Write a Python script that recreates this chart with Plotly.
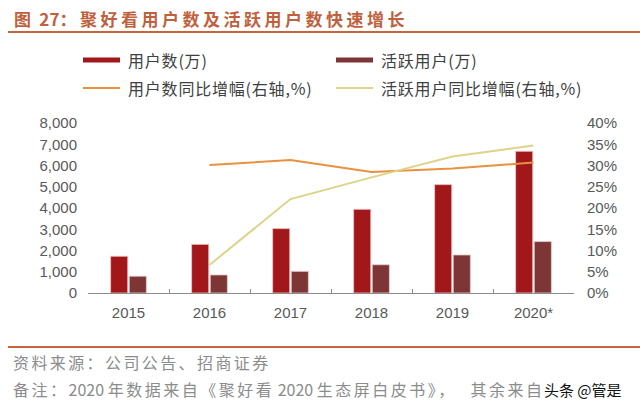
import plotly.graph_objects as go

years = ["2015", "2016", "2017", "2018", "2019", "2020*"]
users = [1730, 2290, 3030, 3940, 5100, 6670]
active_users = [790, 850, 1020, 1330, 1790, 2420]
user_growth = [None, 0.301, 0.313, 0.285, 0.293, 0.307]
active_growth = [None, 0.066, 0.221, 0.272, 0.321, 0.347]

names = ["用户数(万)", "活跃用户(万)", "用户数同比增幅(右轴,%)", "活跃用户同比增幅(右轴,%)"]
c_user, c_active, c_ug, c_ag = "#A2171A", "#7E3535", "#E8913F", "#DDD48A"

W, H = 640, 409
L, R, T, B = 88, 574, 123, 293
def px(x): return (x - L) / (R - L)
def py(y): return (B - y) / (B - T)

def ls(t, s):
    return f'<span style="letter-spacing:{s}px">{t}</span>'

fig = go.Figure()
fig.add_bar(x=years, y=users, name=names[0], marker=dict(color=c_user, line=dict(color="#F2C9C9", width=0.8)))
fig.add_bar(x=years, y=active_users, name=names[1], marker=dict(color=c_active, line=dict(color="#EBCFCF", width=0.8)))
fig.add_scatter(x=years, y=user_growth, name=names[2], yaxis="y2", mode="lines", line=dict(color=c_ug, width=2))
fig.add_scatter(x=years, y=active_growth, name=names[3], yaxis="y2", mode="lines", line=dict(color=c_ag, width=2))

tickfont = dict(family="Liberation Sans, Arial", size=15, color="#595959")
cjk = "Noto Sans CJK SC"

fig.update_layout(
    width=W, height=H,
    margin=dict(l=L, r=W - R, t=T, b=H - B),
    paper_bgcolor="white", plot_bgcolor="white",
    showlegend=False,
    barmode="group", bargap=0.54, bargroupgap=0.08,
    xaxis=dict(showline=True, linecolor="#8C8C8C", linewidth=1, ticks="inside", tickson="boundaries",
               ticklen=4, tickcolor="#8C8C8C", tickfont=tickfont, showgrid=False, ticklabelstandoff=6),
    yaxis=dict(range=[0, 8000], dtick=1000, tickformat=",", showgrid=False, zeroline=False,
               tickfont=tickfont, ticklabelstandoff=10),
    yaxis2=dict(range=[0, 0.4], dtick=0.05, tickformat=".0%", overlaying="y", side="right",
                showgrid=False, zeroline=False, tickfont=tickfont, ticklabelstandoff=12),
)

shapes = []
anns = []
# title
title = ls("图", 4.5) + " 27" + ls("：聚好看用户数及活跃用户数快速增长", 3.5)
anns.append(dict(x=px(12), y=py(18), xref="paper", yref="paper", xanchor="left", yanchor="middle",
                 text=f"<b>{title}</b>", showarrow=False,
                 font=dict(family=cjk, size=17, color="#C0603C")))
shapes.append(dict(type="line", xref="paper", yref="paper", x0=px(8), x1=px(640), y0=py(32), y1=py(32),
                   line=dict(color="#C8643C", width=2)))
shapes.append(dict(type="line", xref="paper", yref="paper", x0=px(8), x1=px(640), y0=py(347), y1=py(347),
                   line=dict(color="#C8643C", width=2)))

# legend
leg = [(83, 120, 60, c_user, 5, names[0]), (336, 373, 60, c_active, 5, names[1]),
       (83, 120, 88, c_ug, 2, names[2]), (336, 373, 88, c_ag, 2, names[3])]
for x0, x1, y, c, w, t in leg:
    shapes.append(dict(type="line", xref="paper", yref="paper", x0=px(x0), x1=px(x1), y0=py(y), y1=py(y),
                       line=dict(color=c, width=w)))
    anns.append(dict(x=px(x1 + 6), y=py(y), xref="paper", yref="paper", xanchor="left", yanchor="middle",
                     text=ls(t, 0.8), showarrow=False, font=dict(family=cjk, size=16, color="#404040")))

# footer
anns.append(dict(x=px(11), y=py(362), xref="paper", yref="paper", xanchor="left", yanchor="middle",
                 text=ls("资料来源：公司公告、招商证券", 2.4), showarrow=False,
                 font=dict(family=cjk, size=16, color="#8C8C8C")))
note = (ls("备注：", 2.5) + "2020 " + ls("年数据来自《聚好看", 2.5) + " 2020 "
        + ls("生态屏白皮书》", 2.5) + ls("，", 16) + ls("其余来自", 2.5))
anns.append(dict(x=px(11), y=py(389), xref="paper", yref="paper", xanchor="left", yanchor="middle",
                 text=note, showarrow=False,
                 font=dict(family=cjk, size=16, color="#8C8C8C")))
anns.append(dict(x=px(542), y=py(389), xref="paper", yref="paper", xanchor="left", yanchor="middle",
                 text="头条 @管是", showarrow=False,
                 font=dict(family=cjk, size=15, color="#111111")))

fig.update_layout(shapes=shapes, annotations=anns)
fig.write_html("out.html", config={"displayModeBar": False},
               post_script="document.body.style.margin='0';document.body.style.overflow='hidden';")
